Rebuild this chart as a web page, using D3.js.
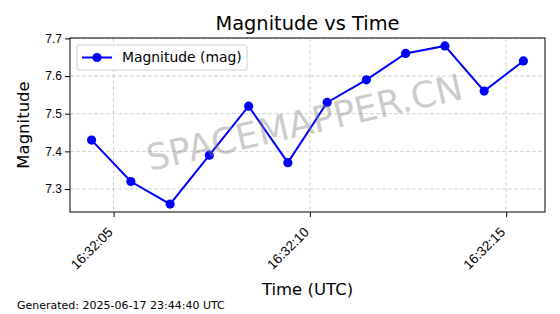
<!DOCTYPE html>
<html>
<head>
<meta charset="utf-8">
<script src="https://cdn.jsdelivr.net/npm/d3@7"></script>
<style>
  body { margin: 0; background: #fff; }
  svg { font-family: "DejaVu Sans", sans-serif; }
</style>
</head>
<body>
<div id="chart"></div>
<script>
const times = ["16:32:04.44", "16:32:05.44", "16:32:06.44", "16:32:07.44", "16:32:08.44", "16:32:09.44",
               "16:32:10.44", "16:32:11.44", "16:32:12.44", "16:32:13.44", "16:32:14.44", "16:32:15.44"];
const magnitudes = [7.43, 7.32, 7.26, 7.39, 7.52, 7.37, 7.53, 7.59, 7.66, 7.68, 7.56, 7.64];
const xTicks = ["16:32:05", "16:32:10", "16:32:15"];
const yTicks = [7.3, 7.4, 7.5, 7.6, 7.7];

const width = 560, height = 314;
const margin = { top: 38, right: 15, bottom: 102, left: 70 };
const iw = width - margin.left - margin.right;
const ih = height - margin.top - margin.bottom;

const parseTime = s => d3.utcParse("%H:%M:%S.%L")(s.includes(".") ? s + "0" : s + ".000");
const data = times.map((t, i) => ({ t: parseTime(t), v: magnitudes[i] }));

// matplotlib style 5% padding on both axes
const tExt = d3.extent(data, d => d.t);
const tPad = (tExt[1] - tExt[0]) * 0.05;
const x = d3.scaleUtc()
  .domain([new Date(+tExt[0] - tPad), new Date(+tExt[1] + tPad)])
  .range([0, iw]);
const vExt = d3.extent(magnitudes);
const vPad = (vExt[1] - vExt[0]) * 0.05;
const y = d3.scaleLinear()
  .domain([vExt[0] - vPad, vExt[1] + vPad])
  .range([ih, 0]);

const svg = d3.select("#chart").append("svg")
  .attr("width", width)
  .attr("height", height);

const g = svg.append("g")
  .attr("transform", "translate(" + margin.left + "," + margin.top + ")");

const xTickDates = xTicks.map(parseTime);

// grid
g.append("g")
  .selectAll("line")
  .data(yTicks)
  .enter().append("line")
  .attr("x1", 0).attr("x2", iw)
  .attr("y1", d => y(d)).attr("y2", d => y(d))
  .attr("stroke", "#b0b0b0").attr("stroke-opacity", 0.7)
  .attr("stroke-dasharray", "4,2").attr("stroke-width", 0.8);
g.append("g")
  .selectAll("line")
  .data(xTickDates)
  .enter().append("line")
  .attr("x1", d => x(d)).attr("x2", d => x(d))
  .attr("y1", 0).attr("y2", ih)
  .attr("stroke", "#b0b0b0").attr("stroke-opacity", 0.7)
  .attr("stroke-dasharray", "4,2").attr("stroke-width", 0.8);

// watermark
svg.append("text")
  .text("SPACEMAPPER.CN")
  .attr("transform", "translate(305,125) rotate(-13)")
  .attr("text-anchor", "middle")
  .attr("dominant-baseline", "middle")
  .attr("fill", "#808080")
  .attr("fill-opacity", 0.42)
  .style("font-size", "36px");

// line + markers
const line = d3.line().x(d => x(d.t)).y(d => y(d.v));
g.append("path")
  .datum(data)
  .attr("d", line)
  .attr("fill", "none")
  .attr("stroke", "#0000ff")
  .attr("stroke-width", 2);
g.selectAll("circle.pt")
  .data(data)
  .enter().append("circle")
  .attr("class", "pt")
  .attr("cx", d => x(d.t))
  .attr("cy", d => y(d.v))
  .attr("r", 4.6)
  .attr("fill", "#0000ff");

// axes
const xAxis = g.append("g")
  .attr("transform", "translate(0," + ih + ")")
  .call(d3.axisBottom(x).tickValues(xTickDates).tickFormat(d3.utcFormat("%H:%M:%S")).tickSizeOuter(0).tickSize(5));
xAxis.selectAll("text")
  .attr("x", 0).attr("y", 0).attr("dy", 0)
  .attr("transform", "translate(-0.5,21) rotate(-45)")
  .style("text-anchor", "end")
  .style("font-size", "13.5px")
  .attr("fill", "#000");

const yAxis = g.append("g")
  .call(d3.axisLeft(y).tickValues(yTicks).tickFormat(d3.format(".1f")).tickSizeOuter(0).tickSize(5));
yAxis.selectAll("text").style("font-size", "12px").attr("fill", "#000");

svg.selectAll(".domain").remove();
g.append("rect")
  .attr("width", iw).attr("height", ih)
  .attr("fill", "none").attr("stroke", "#000").attr("stroke-width", 1);

// legend
const lg = g.append("g").attr("transform", "translate(7,7)");
lg.append("rect")
  .attr("width", 170).attr("height", 25).attr("rx", 2)
  .attr("fill", "#fff").attr("fill-opacity", 0.8)
  .attr("stroke", "#d0d0d0");
lg.append("line")
  .attr("x1", 5).attr("x2", 35).attr("y1", 12.5).attr("y2", 12.5)
  .attr("stroke", "#0000ff").attr("stroke-width", 2);
lg.append("circle").attr("cx", 20).attr("cy", 12.5).attr("r", 4.6).attr("fill", "#0000ff");
lg.append("text").text("Magnitude (mag)")
  .attr("x", 45).attr("y", 12.5).attr("dy", "0.35em")
  .style("font-size", "13.9px");

// titles
svg.append("text").text("Magnitude vs Time")
  .attr("x", margin.left + iw / 2).attr("y", 30)
  .attr("text-anchor", "middle").style("font-size", "19.4px");
svg.append("text").text("Time (UTC)")
  .attr("x", margin.left + iw / 2).attr("y", 295)
  .attr("text-anchor", "middle").style("font-size", "16.5px");
svg.append("text").text("Magnitude")
  .attr("transform", "translate(29," + (margin.top + ih / 2) + ") rotate(-90)")
  .attr("text-anchor", "middle").style("font-size", "16.5px");
svg.append("text").text("Generated: 2025-06-17 23:44:40 UTC")
  .attr("x", 17).attr("y", 309).style("font-size", "11px");
</script>
</body>
</html>
